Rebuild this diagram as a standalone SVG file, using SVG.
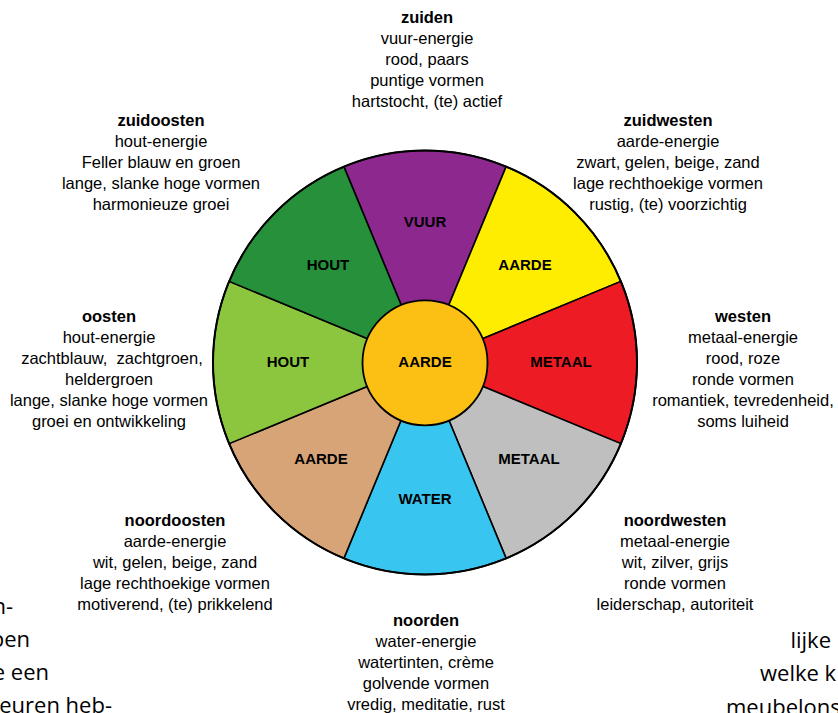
<svg xmlns="http://www.w3.org/2000/svg" width="838" height="713" viewBox="0 0 838 713">
<style>
.w{stroke:#000;stroke-width:1.6;stroke-linejoin:round}
.lab{font-family:"Liberation Sans",Arial,sans-serif;font-weight:bold;font-size:15px;text-anchor:middle;fill:#000}
.t{font-family:"Liberation Sans",Arial,sans-serif;font-size:16.5px;text-anchor:middle;fill:#000}
.t .h{font-weight:bold}
.f{font-family:"Open Sans","Noto Sans",sans-serif;font-size:22px;fill:#000}
</style>
<rect width="838" height="713" fill="#fff"/>
<g id="wheel">
<g id="vuur"><path class="w" fill="#8D288F" d="M425,362.5 L343.87,166.64 A212,212 0 0 1 506.13,166.64 Z"/><text class="lab" x="425" y="227">VUUR</text></g>
<g id="aarde-zw"><path class="w" fill="#FFED00" d="M425,362.5 L506.13,166.64 A212,212 0 0 1 620.86,281.37 Z"/><text class="lab" x="525" y="270">AARDE</text></g>
<g id="metaal-w"><path class="w" fill="#ED1C24" d="M425,362.5 L620.86,281.37 A212,212 0 0 1 620.86,443.63 Z"/><text class="lab" x="561" y="367">METAAL</text></g>
<g id="metaal-nw"><path class="w" fill="#BFBFBF" d="M425,362.5 L620.86,443.63 A212,212 0 0 1 506.13,558.36 Z"/><text class="lab" x="529" y="464">METAAL</text></g>
<g id="water"><path class="w" fill="#38C6F1" d="M425,362.5 L506.13,558.36 A212,212 0 0 1 343.87,558.36 Z"/><text class="lab" x="425" y="504">WATER</text></g>
<g id="aarde-no"><path class="w" fill="#D6A477" d="M425,362.5 L343.87,558.36 A212,212 0 0 1 229.14,443.63 Z"/><text class="lab" x="321" y="464">AARDE</text></g>
<g id="hout-o"><path class="w" fill="#8CC63F" d="M425,362.5 L229.14,443.63 A212,212 0 0 1 229.14,281.37 Z"/><text class="lab" x="288" y="367">HOUT</text></g>
<g id="hout-zo"><path class="w" fill="#27903B" d="M425,362.5 L229.14,281.37 A212,212 0 0 1 343.87,166.64 Z"/><text class="lab" x="328" y="270">HOUT</text></g>
<circle cx="425" cy="362.5" r="212" fill="none" stroke="#000" stroke-width="2"/>
<g id="aarde-centrum"><circle cx="425" cy="362.8" r="62.5" fill="#FCC015" stroke="#000" stroke-width="1.8"/><text class="lab" x="425" y="367">AARDE</text></g>
</g>
<g id="connectors"/>
<g id="zuiden" class="t"><text x="427" y="23"><tspan class="h">zuiden</tspan><tspan x="427" dy="21">vuur-energie</tspan><tspan x="427" dy="21">rood, paars</tspan><tspan x="427" dy="21">puntige vormen</tspan><tspan x="427" dy="21">hartstocht, (te) actief</tspan></text></g>
<g id="zuidoosten" class="t"><text x="161" y="126"><tspan class="h">zuidoosten</tspan><tspan x="161" dy="21">hout-energie</tspan><tspan x="161" dy="21">Feller blauw en groen</tspan><tspan x="161" dy="21">lange, slanke hoge vormen</tspan><tspan x="161" dy="21">harmonieuze groei</tspan></text></g>
<g id="zuidwesten" class="t"><text x="668" y="126"><tspan class="h">zuidwesten</tspan><tspan x="668" dy="21">aarde-energie</tspan><tspan x="668" dy="21">zwart, gelen, beige, zand</tspan><tspan x="668" dy="21">lage rechthoekige vormen</tspan><tspan x="668" dy="21">rustig, (te) voorzichtig</tspan></text></g>
<g id="oosten" class="t"><text x="109" y="322" xml:space="preserve"><tspan class="h">oosten</tspan><tspan x="109" dy="21">hout-energie</tspan><tspan x="112" dy="21">zachtblauw,  zachtgroen,</tspan><tspan x="109" dy="21">heldergroen</tspan><tspan x="109" dy="21">lange, slanke hoge vormen</tspan><tspan x="109" dy="21">groei en ontwikkeling</tspan></text></g>
<g id="westen" class="t"><text x="743" y="322"><tspan class="h">westen</tspan><tspan x="743" dy="21">metaal-energie</tspan><tspan x="743" dy="21">rood, roze</tspan><tspan x="743" dy="21">ronde vormen</tspan><tspan x="743" dy="21">romantiek, tevredenheid,</tspan><tspan x="743" dy="21">soms luiheid</tspan></text></g>
<g id="noordoosten" class="t"><text x="175" y="526"><tspan class="h">noordoosten</tspan><tspan x="175" dy="21">aarde-energie</tspan><tspan x="175" dy="21">wit, gelen, beige, zand</tspan><tspan x="175" dy="21">lage rechthoekige vormen</tspan><tspan x="175" dy="21">motiverend, (te) prikkelend</tspan></text></g>
<g id="noordwesten" class="t"><text x="675" y="526"><tspan class="h">noordwesten</tspan><tspan x="675" dy="21">metaal-energie</tspan><tspan x="675" dy="21">wit, zilver, grijs</tspan><tspan x="675" dy="21">ronde vormen</tspan><tspan x="675" dy="21">leiderschap, autoriteit</tspan></text></g>
<g id="noorden" class="t"><text x="426" y="626"><tspan class="h">noorden</tspan><tspan x="426" dy="21">water-energie</tspan><tspan x="426" dy="21">watertinten, crème</tspan><tspan x="426" dy="21">golvende vormen</tspan><tspan x="426" dy="21">vredig, meditatie, rust</tspan></text></g>
<g id="fragments" class="f">
<text x="13" y="614" text-anchor="end">n-</text>
<text x="30" y="647" text-anchor="end">pen</text>
<text x="49" y="680" text-anchor="end">e een</text>
<text x="112" y="713" text-anchor="end">eeuren heb-</text>
<text x="831" y="648" text-anchor="end">lijke</text>
<text x="760" y="681">welke k</text>
<text x="726" y="715">meubelons</text>
</g>
</svg>
